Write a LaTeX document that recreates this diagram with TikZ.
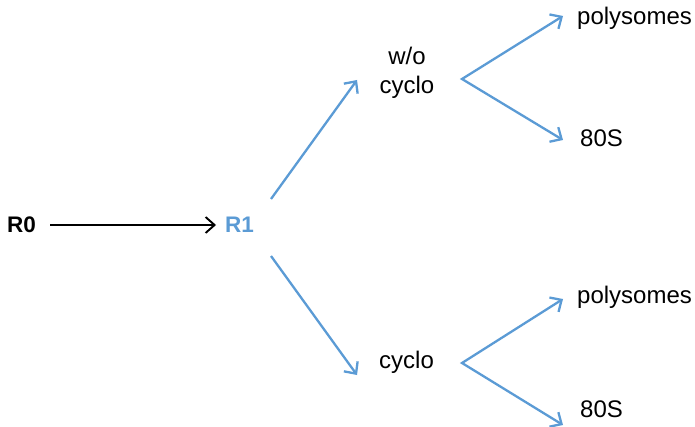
\documentclass[tikz,border=0pt]{standalone}
\usepackage{fontspec}
\setmainfont{Liberation Sans}
\usetikzlibrary{arrows.meta}
\definecolor{flowblue}{HTML}{5B9BD5}
\tikzset{
  lbl/.style={inner sep=0pt, font=\fontsize{24}{29}\selectfont, anchor=base west},
  rlbl/.style={inner sep=0pt, font=\fontsize{22.5}{27}\selectfont\bfseries, anchor=base west},
  blk/.style={line width=1.9pt, -{Straight Barb[length=9pt,width=16pt,line width=1.9pt]}},
  blu/.style={draw=flowblue, line width=2.3pt, -{Straight Barb[length=9pt,width=17pt,line width=2.3pt]}},
  fork/.style={draw=flowblue, line width=2.3pt, {Straight Barb[length=9pt,width=17pt,line width=2.3pt]}-{Straight Barb[length=9pt,width=17pt,line width=2.3pt]}, line join=miter}
}
\begin{document}
\begin{tikzpicture}[x=1pt,y=-1pt]
\useasboundingbox (0,0) rectangle (695,427);
% labels
\node[rlbl] (r0) at (7,233) {R0};
\node[rlbl, text=flowblue] (r1) at (225,233) {R1};
\node[inner sep=0pt, font=\fontsize{24}{29}\selectfont, align=center, anchor=base] (wo) at (407,94) {w/o\\cyclo};
\node[lbl] (cy) at (379,368) {cyclo};
\node[lbl] (p1) at (577,25) {polysomes};
\node[lbl] (s1) at (580,147) {80S};
\node[lbl] (p2) at (577,303) {polysomes};
\node[lbl] (s2) at (580,417) {80S};
% connector end points
\coordinate (a0) at (50,225);
\coordinate (a1) at (216,225);
\coordinate (u0) at (271,199);
\coordinate (u1) at (357,80);
\coordinate (d0) at (271,256);
\coordinate (d1) at (357,375);
\coordinate (v1) at (462,79);
\coordinate (t1) at (563,16);
\coordinate (b1) at (563,140);
\coordinate (v2) at (462,363);
\coordinate (t2) at (563,299);
\coordinate (b2) at (563,425);
% connectors
\draw[blk] (a0) -- (a1);
\draw[blu] (u0) -- (u1);
\draw[blu] (d0) -- (d1);
\draw[fork] (t1) -- (v1) -- (b1);
\draw[fork] (t2) -- (v2) -- (b2);
\end{tikzpicture}
\end{document}
